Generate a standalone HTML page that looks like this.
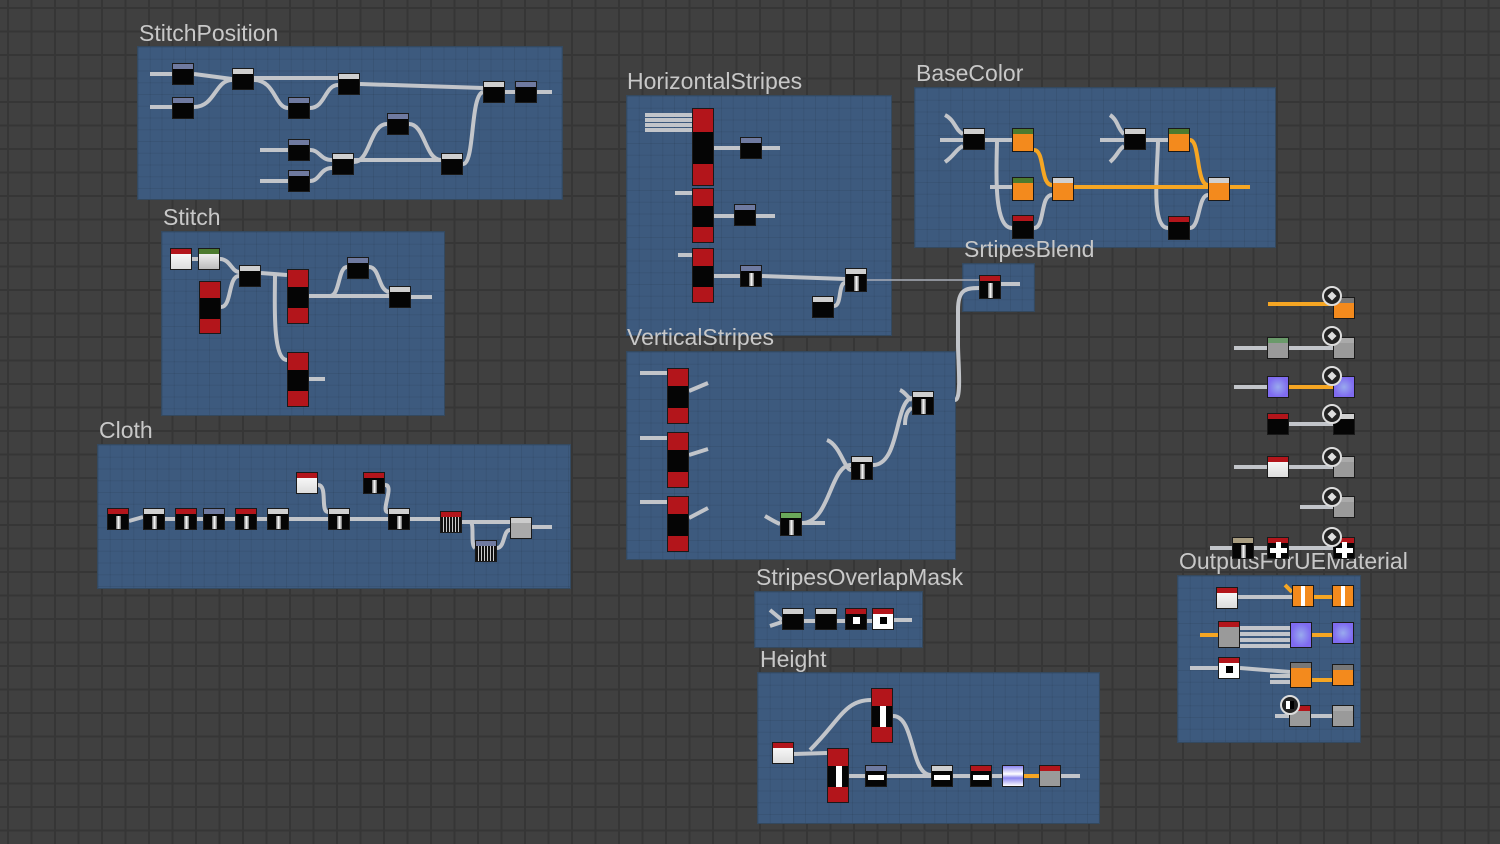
<!DOCTYPE html>
<html><head><meta charset="utf-8">
<style>
html,body{margin:0;padding:0}
body{width:1500px;height:844px;overflow:hidden;position:relative;background-color:#404040;
background-image:linear-gradient(to right,#363636 2px,transparent 2px),linear-gradient(to bottom,#363636 2px,transparent 2px);
background-size:23.5px 23.5px;background-position:7px 7px;font-family:"Liberation Sans","DejaVu Sans",sans-serif}
.f{position:absolute;background:#3d5a7e;box-shadow:0 0 0 1px #34495f;
background-image:linear-gradient(to right,rgba(0,0,0,.07) 1px,transparent 1px),linear-gradient(to bottom,rgba(0,0,0,.07) 1px,transparent 1px);background-size:11.75px 11.75px}
.t{position:absolute;color:#c8c8c8;font-size:23px;line-height:23px;white-space:nowrap}
.n{position:absolute;box-sizing:border-box;border:1px solid #1a1a1a;background:#050505}
.n .h{position:absolute;left:0;right:0;top:0;height:5px;background:#6f7aa0}
svg{position:absolute;left:0;top:0}
</style></head><body>
<div id="c"></div>
<script>
var frames=[
["StitchPosition",138,47,424,152,139,22],
["HorizontalStripes",627,96,264,239,627,70],
["BaseColor",915,88,360,159,916,62],
["SrtipesBlend",963,264,71,47,964,238],
["Stitch",162,232,282,183,163,206],
["VerticalStripes",627,352,328,207,627,326],
["Cloth",98,445,472,143,99,419],
["StripesOverlapMask",755,592,167,55,756,566],
["Height",758,673,341,150,760,648],
["OutputsForUEMaterial",1178,576,182,166,1179,550]
];
var wires=[
[150,74,172,74],[150,107,172,107],[194,74,232,79],"M194 107 C215 107 215 80 232 80","M254 80 C275 80 275 108 288 108","M310 108 C325 108 325 85 338 85",[254,78,338,78],[360,84,483,88],[505,92,515,92],[537,92,552,92],
[260,150,288,150],[260,181,288,181],"M310 150 C320 150 320 160 332 160","M310 181 C320 181 320 168 332 168","M354 162 C370 162 370 124 387 124","M409 124 C425 124 425 160 441 160",[354,160,441,160],"M463 164 C475 164 470 95 483 92",
[645,115,692,115],[645,120,692,120],[645,125,692,125],[645,130,692,130],[714,148,740,148],[762,148,780,148],[675,193,692,193],[714,216,734,216],[756,216,775,216],[714,276,740,276],[762,276,845,279],"M834 306 C842 306 838 283 845 283",[678,255,692,255],
"M958 345 L958 310 C958 290 965 288 979 288",[1001,284,1020,284],
"M955 400 C962 400 958 360 958 345",
[940,140,963,140],"M945 115 C955 120 955 130 963 134","M945 162 C955 155 955 150 963 146",[985,140,1012,140],"M997 140 C997 160 992 228 1012 228",[990,187,1012,187],"M1034 228 C1045 228 1040 195 1052 195",
[1100,140,1124,140],"M1110 115 C1118 120 1118 130 1124 134","M1110 162 C1118 155 1118 150 1124 146",[1146,140,1168,140],"M1158 140 C1158 165 1150 228 1168 228","M1190 228 C1200 228 1198 195 1208 195",
[192,259,198,259],"M220 259 C230 259 232 272 239 272","M221 307 C232 307 228 276 239 276",[261,273,287,275],"M275 275 C275 300 272 360 287 360",[309,296,389,296],"M330 296 C340 296 338 267 347 267","M369 267 C380 267 378 290 389 292",[411,297,432,297],[309,379,325,379],
[640,373,667,373],[640,438,667,438],[640,502,667,502],[689,391,708,383],[689,455,708,449],[689,518,708,508],"M765 516 C772 520 775 522 780 524",[802,523,825,523],"M802 523 C830 523 830 465 851 465","M827 440 C840 445 845 470 851 470","M873 465 C900 465 895 400 912 398","M900 390 C905 392 908 398 912 400","M905 425 C905 415 908 410 912 408",
[129,521,143,517],[165,519,175,519],[197,519,203,519],[225,519,235,519],[257,519,267,519],[289,519,328,519],[350,519,388,519],[410,519,440,519],"M318 485 C328 485 320 512 328 512","M385 485 C395 485 380 512 388 512",[462,522,510,522],"M470 522 C475 522 470 545 475 548","M497 548 C505 548 503 530 510 530",[532,527,552,527],
[770,610,782,620],[770,626,782,622],[804,621,815,621],[837,621,845,621],[867,621,872,621],[894,620,912,620],
[794,754,827,753],"M810 750 C840 720 845 700 871 700","M893 716 C915 716 910 775 931 775",[849,776,865,776],[887,776,931,776],[953,776,970,776],[992,776,1002,776],[1061,776,1080,776],
[1234,348,1267,348],[1289,348,1333,348],[1234,387,1267,387],[1289,424,1333,424],[1234,467,1267,467],[1289,467,1333,467],[1300,507,1333,507],[1210,548,1232,548],[1254,548,1267,548],[1289,548,1333,548],
[1238,597,1292,597],[1240,628,1290,628],[1240,634,1290,634],[1240,640,1290,640],[1240,646,1290,646],[1190,668,1218,668],[1240,668,1290,672],[1270,676,1290,676],[1270,682,1290,682],[1275,716,1289,716],[1311,716,1332,716]
];
var orange=[
[1268,304,1333,304],[1289,387,1333,387],"M1034 150 C1045 150 1040 185 1052 185",[1074,187,1250,187],"M1190 140 C1200 140 1196 185 1208 185",[1230,187,1250,187],[1024,776,1039,776],
[1285,585,1292,592],[1314,597,1332,597],[1312,635,1332,635],[1312,680,1332,680],[1200,635,1218,635]
];
var h='';
function w(a,c,sw){if(typeof a=='string')h+='<path d="'+a+'" fill="none" stroke="'+c+'" stroke-width="'+sw+'"/>';else h+='<line x1="'+a[0]+'" y1="'+a[1]+'" x2="'+a[2]+'" y2="'+a[3]+'" stroke="'+c+'" stroke-width="'+sw+'"/>';}
var html='';
frames.forEach(function(f){html+='<div class="f" style="left:'+f[1]+'px;top:'+f[2]+'px;width:'+f[3]+'px;height:'+f[4]+'px"></div><div class="t" style="left:'+f[5]+'px;top:'+f[6]+'px">'+f[0]+'</div>';});
var c=document.getElementById('c');
c.innerHTML=html;
wires.forEach(function(a){w(a,'#c2c5ca',4)});w([867,280,980,280],'#a8adb8',1.5);orange.forEach(function(a){w(a,'#f6a623',4)});
c.insertAdjacentHTML('beforeend','<svg width="1500" height="844" style="position:absolute;left:0;top:0">'+h+'</svg>');
var N=[
[172,63,22,22,'b'],[172,97,22,22,'b'],[232,68,22,22,'k'],[288,97,22,22,'b'],[338,73,22,22,'k'],[288,139,22,22,'b'],[288,170,22,22,'b'],[332,153,22,22,'k'],[387,113,22,22,'b'],[441,153,22,22,'k'],[483,81,22,22,'k'],[515,81,22,22,'b'],
[692,108,22,78,'r'],[692,188,22,55,'r'],[692,248,22,55,'r'],[740,137,22,22,'b'],[734,204,22,22,'b'],[740,265,22,22,'bs'],[845,268,22,24,'ks'],[812,296,22,22,'k'],
[963,128,22,22,'k'],[1012,128,22,24,'og'],[1012,177,22,24,'og'],[1052,177,22,24,'ow'],[1012,215,22,24,'rb'],[1124,128,22,22,'k'],[1168,128,22,24,'og'],[1208,177,22,24,'ow'],[1168,216,22,24,'rb'],
[979,275,22,24,'rs'],
[170,248,22,22,'w'],[198,248,22,22,'gw'],[199,281,22,53,'r'],[239,265,22,22,'k'],[287,269,22,55,'r'],[347,257,22,22,'b'],[389,286,22,22,'k'],[287,352,22,55,'r'],
[667,368,22,56,'r'],[667,432,22,56,'r'],[667,496,22,56,'r'],[912,391,22,24,'ks'],[851,456,22,24,'ks'],[780,512,22,24,'gs'],
[107,508,22,22,'rs'],[143,508,22,22,'kt'],[175,508,22,22,'rs'],[203,508,22,22,'bs'],[235,508,22,22,'rs'],[267,508,22,22,'kt'],[328,508,22,22,'kt'],[388,508,22,22,'kt'],[296,472,22,22,'rw'],[363,472,22,22,'rs'],[440,511,22,22,'nr'],[475,540,22,22,'nb'],[510,517,22,22,'nw'],
[782,608,22,22,'k'],[815,608,22,22,'k'],[845,608,22,22,'rc'],[872,608,22,22,'wc'],
[772,742,22,22,'rw'],[827,748,22,55,'rh'],[871,688,22,55,'rh'],[865,765,22,22,'bh'],[931,765,22,22,'kh'],[970,765,22,22,'rhh'],[1002,765,22,22,'pw'],[1039,765,22,22,'gr'],
[1333,297,22,22,'o'],[1267,337,22,22,'gg'],[1333,337,22,22,'gy'],[1267,376,22,22,'p'],[1333,376,22,22,'p'],[1267,413,22,22,'rb'],[1333,413,22,22,'k'],[1267,456,22,22,'rw'],[1333,456,22,22,'gy'],[1333,496,22,22,'gy'],[1232,537,22,22,'kx'],[1267,537,22,22,'plus'],[1333,537,22,22,'plus'],
[1216,587,22,22,'rw'],[1292,585,22,22,'op'],[1332,585,22,22,'op'],[1218,621,22,27,'gr'],[1290,622,22,26,'p'],[1332,622,22,22,'p'],[1218,657,22,22,'wc'],[1290,662,22,26,'o'],[1332,664,22,22,'o'],[1289,705,22,22,'gr'],[1332,705,22,22,'gy']
];
var out='';
N.forEach(function(n){
 var x=n[0],y=n[1],W=n[2],H=n[3],t=n[4],st='left:'+x+'px;top:'+y+'px;width:'+W+'px;height:'+H+'px;',inner='';
 if(t=='r'||t=='rh'){var q=Math.round(H*0.3);st+='background:linear-gradient(#b3151b 0,#b3151b '+q+'px,#050505 '+q+'px,#050505 '+(H-q)+'px,#b3151b '+(H-q)+'px)';if(t=='rh')inner='<div style="position:absolute;left:8px;top:'+q+'px;width:6px;height:'+(H-2*q)+'px;background:#fff"></div>';}
 else if(t=='o'||t=='og'||t=='ow'){st+='background:#f38a1d';inner='<div class="h" style="background:'+(t=='og'?'#4c7a2e':t=='ow'?'#cfcfcf':'#777')+'"></div>';}
 else if(t=='op'){st+='background:linear-gradient(to right,#f38a1d 40%,#fff 40%,#fff 60%,#f38a1d 60%)';}
 else if(t=='p'){st+='background:radial-gradient(#9ae 0,#7f6bf0 70%)';}
 else if(t=='w'||t=='rw'){st+='background:linear-gradient(#fff,#ddd)';inner='<div class="h" style="background:#b3151b"></div>';}
 else if(t=='gw'){st+='background:linear-gradient(#fff,#bbb)';inner='<div class="h" style="background:#4c7a2e"></div>';}
 else if(t=='wc'){st+='background:#fff';inner='<div class="h" style="background:#b3151b"></div><div style="position:absolute;left:7px;top:8px;width:7px;height:7px;background:#000"></div>';}
 else if(t=='rc'){inner='<div class="h" style="background:#b3151b"></div><div style="position:absolute;left:7px;top:8px;width:7px;height:7px;background:#fff"></div>';}
 else if(t=='gg'||t=='gy'||t=='gr'){st+='background:#9a9a9a';inner='<div class="h" style="background:'+(t=='gg'?'#6a9a6a':t=='gr'?'#b3151b':'#aaa')+'"></div>';}
 else if(t=='pw'){st+='background:linear-gradient(#8c86f0 0,#fff 40%,#8c86f0 60%,#fff 100%)';}
 else if(t=='plus'){inner='<div class="h" style="background:#b3151b"></div><div style="position:absolute;left:8px;top:4px;width:5px;height:16px;background:#fff"></div><div style="position:absolute;left:2px;top:10px;width:17px;height:5px;background:#fff"></div>';}
 else if(t=='nr'||t=='nb'||t=='nw'){st+='background:repeating-linear-gradient(90deg,#111 0 2px,#ccc 2px 3px),#111';if(t=='nw')st+=';background:#aaa';inner='<div class="h" style="background:'+(t=='nr'?'#b3151b':t=='nb'?'#6f7aa0':'#ccc')+'"></div>';}
 else {var hc={'b':'#6f7aa0','k':'#cfcfcf','bs':'#6f7aa0','ks':'#cfcfcf','rs':'#b3151b','rb':'#b3151b','gs':'#6aa85a','kt':'#cfcfcf','bh':'#6f7aa0','kh':'#cfcfcf','rhh':'#b3151b','kx':'#a89c80'}[t]||'#6f7aa0';
  inner='<div class="h" style="background:'+hc+'"></div>';
  if(t=='bs'||t=='ks'||t=='rs'||t=='gs'||t=='kt'||t=='kx')inner+='<div style="position:absolute;left:8px;top:7px;width:5px;height:'+(H-9)+'px;background:linear-gradient(90deg,#666,#fff,#666)"></div>';
  if(t=='bh'||t=='kh'||t=='rhh')inner+='<div style="position:absolute;left:2px;top:9px;width:16px;height:5px;background:#fff"></div>';}
 out+='<div class="n" style="'+st+'">'+inner+'</div>';
});
[295,335,375,413,456,496,536].forEach(function(y){out+='<div style="position:absolute;left:1322px;top:'+(y-9)+'px;width:16px;height:16px;border-radius:50%;background:#222;border:2px solid #ddd;box-sizing:content-box"><div style="position:absolute;left:4px;top:4px;width:8px;height:8px;background:#ddd;transform:rotate(45deg) scale(.8)"></div></div>';});
out+='<div style="position:absolute;left:1280px;top:695px;width:16px;height:16px;border-radius:50%;background:#222;border:2px solid #ddd"><div style="position:absolute;left:4px;top:4px;width:8px;height:8px;background:linear-gradient(90deg,#fff 50%,#000 50%)"></div></div>';
c.insertAdjacentHTML('beforeend',out);
</script>
</body></html>
